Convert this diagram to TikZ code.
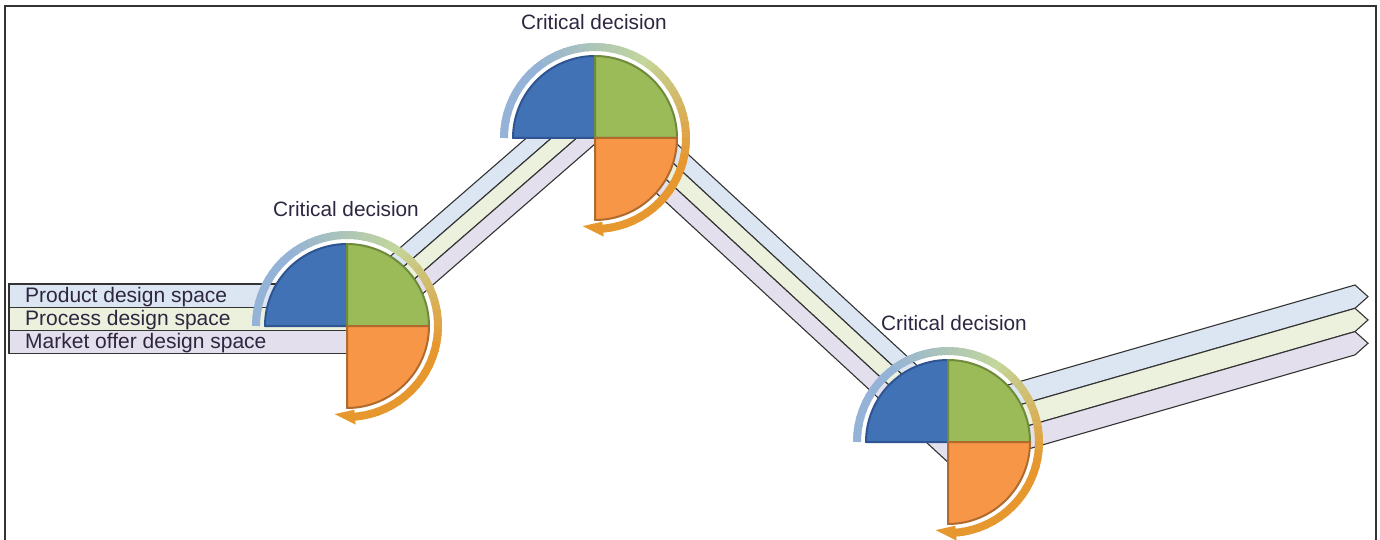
\documentclass[tikz,border=0pt]{standalone}
\usepackage{fontspec}
\setmainfont{Liberation Sans}
\usetikzlibrary{calc}
\definecolor{BandProduct}{HTML}{DCE6F2}
\definecolor{BandProcess}{HTML}{EBF1DD}
\definecolor{BandMarket}{HTML}{E4DFEC}
\definecolor{BandLine}{HTML}{333333}
\definecolor{QBlue}{HTML}{4172B6}
\definecolor{QBlueLine}{HTML}{2E5591}
\definecolor{QGreen}{HTML}{9BBB59}
\definecolor{QGreenLine}{HTML}{6E8A3A}
\definecolor{QOrange}{HTML}{F79646}
\definecolor{QOrangeLine}{HTML}{B06A2E}
\definecolor{RingBlue}{HTML}{95B3D7}
\definecolor{RingGreen}{HTML}{C3D69B}
\definecolor{RingOrange}{HTML}{E6982F}
\definecolor{Label}{HTML}{2E2640}
\tikzset{
    band/.style={draw=BandLine, line width=1.1pt},
    quarter/.style={line width=2pt, line join=round},
    ringpiece/.style={line width=8pt},
    decision/.style={anchor=base, inner sep=0pt, text=Label, font=\fontsize{20.8}{24}\selectfont},
    spacelabel/.style={anchor=base west, inner sep=0pt, text=Label, font=\fontsize{21}{24}\selectfont},
}
% quarters of a decision mark and the ring round them
\newcommand{\decisionmark}[1]{%
    \filldraw[quarter, fill=QBlue, draw=QBlueLine] (#1) -- ++(180:82) arc[start angle=180, end angle=90, radius=82] -- cycle;
    \filldraw[quarter, fill=QGreen, draw=QGreenLine] (#1) -- ++(0:82) arc[start angle=0, end angle=90, radius=82] -- cycle;
    \filldraw[quarter, fill=QOrange, draw=QOrangeLine] (#1) -- ++(-90:82) arc[start angle=-90, end angle=0, radius=82] -- cycle;
    % ring: blue -> green -> orange
    \foreach \a in {180,175,...,135}{
        \draw[ringpiece, RingBlue] ($(#1)+(\a:91)$) arc[start angle=\a, end angle=\a-6, radius=91];
    }
    \foreach \a in {130,125,...,65}{
        \pgfmathtruncatemacro\p{(\a-60)*100/70}
        \draw[ringpiece, RingBlue!\p!RingGreen] ($(#1)+(\a:91)$) arc[start angle=\a, end angle=\a-6, radius=91];
    }
    \foreach \a in {60,55,...,-5}{
        \pgfmathtruncatemacro\p{(\a+10)*100/70}
        \draw[ringpiece, RingGreen!\p!RingOrange] ($(#1)+(\a:91)$) arc[start angle=\a, end angle=\a-6, radius=91];
    }
    \foreach \a in {-10,-15,...,-80}{
        \draw[ringpiece, RingOrange] ($(#1)+(\a:91)$) arc[start angle=\a, end angle=\a-6, radius=91];
    }
    \fill[RingOrange] ($(#1)+(-85:84)$) -- ($(#1)+(-85:99)$) -- ($(#1)+(-98:89)$) -- cycle;
}

\begin{document}
\begin{tikzpicture}[x=1pt, y=1pt]
    \useasboundingbox (0,0) rectangle (1380,539);

    % frame
    \draw[line width=1.6pt, BandLine] (5,-5) -- (5,533) -- (1376,533) -- (1376,-5);

    \coordinate (dec1) at (347,213);
    \coordinate (dec2) at (595,401);
    \coordinate (dec3) at (948,97);

    % design spaces, left part
    \foreach \col [count=\i] in {BandProduct,BandProcess,BandMarket}
        \filldraw[band, fill=\col] (9,{255-(\i-1)*23.3}) rectangle (360,{255-\i*23.3});

    % up to the second decision
    \begin{scope}[shift={(349,214)}, rotate=41]
        \foreach \col [count=\i] in {BandProduct,BandProcess,BandMarket}
            \filldraw[band, fill=\col] (0,{(2.5-\i)*16.5}) rectangle (332,{(1.5-\i)*16.5});
    \end{scope}

    % down to the third decision
    \begin{scope}[shift={(640,395)}, rotate=-42.7]
        \foreach \col [count=\i] in {BandProduct,BandProcess,BandMarket}
            \filldraw[band, fill=\col] (0,{(2.5-\i)*16.7}) rectangle (469,{(1.5-\i)*16.7});
    \end{scope}

    % out to the right, pointed ends
    \foreach \col [count=\i] in {BandProduct,BandProcess,BandMarket}{
        \pgfmathsetmacro\ytop{254-(\i-1)*23.3}
        \filldraw[band, fill=\col] (955,{\ytop-115.2}) -- (1355,\ytop) -- (1368,{\ytop-11.65})
            -- (1355,{\ytop-23.3}) -- (955,{\ytop-23.3-115.2}) -- cycle;
    }

    \decisionmark{dec1}
    \decisionmark{dec2}
    \decisionmark{dec3}

    \node[decision] (crit1) at (346,323) {Critical decision};
    \node[decision] (crit2) at (594,509) {Critical decision};
    \node[decision] (crit3) at (954,209) {Critical decision};

    \node[spacelabel] (product) at (25,237) {Product design space};
    \node[spacelabel] (process) at (25,214) {Process design space};
    \node[spacelabel] (market) at (25,191) {Market offer design space};
\end{tikzpicture}
\end{document}
